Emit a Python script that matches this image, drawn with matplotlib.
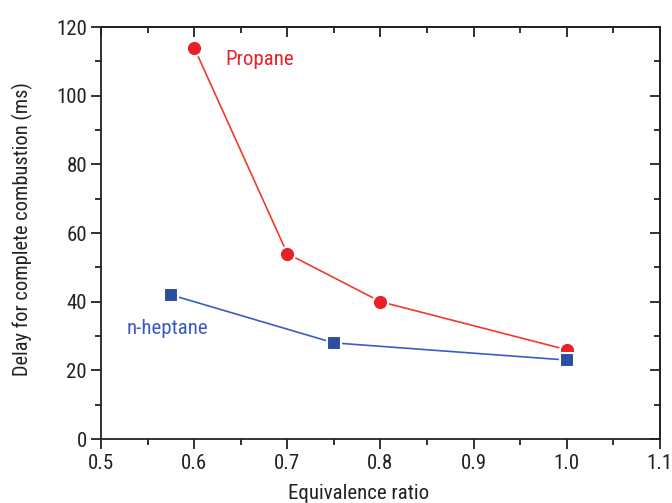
import matplotlib
matplotlib.use("Agg")
import matplotlib.pyplot as plt
from matplotlib.ticker import MultipleLocator

plt.rcParams['font.family'] = ['Roboto Condensed', 'DejaVu Sans']

propane_x = [0.6, 0.7, 0.8, 1.0]
propane_y = [114, 54, 40, 26]
heptane_x = [0.575, 0.75, 1.0]
heptane_y = [42, 28, 23]
xtick_labels = ['0.5', '0.6', '0.7', '0.8', '0.9', '1.0', '1.1']

fig = plt.figure(figsize=(6.72, 5.03), dpi=100)
ax = fig.add_axes([0.1503, 0.1272, 0.8317, 0.8191])

ax.plot(propane_x, propane_y, color='#f23a2a', lw=1.2, zorder=2)
ax.plot(propane_x, propane_y, linestyle='none', marker='o', ms=11,
        mfc='#e8202a', mec='white', mew=1.5, zorder=3)
ax.plot(heptane_x, heptane_y, color='#3a5cc4', lw=1.2, zorder=2)
ax.plot(heptane_x, heptane_y, linestyle='none', marker='s', ms=9.5,
        mfc='#2b4ea3', mec='white', mew=1.5, zorder=3)

ax.text(0.634, 110.4, 'Propane', color='#e8202a', fontsize=15, va='center', ha='left')
ax.text(0.528, 32.2, 'n-heptane', color='#3a5cc4', fontsize=15, va='center', ha='left')

ax.set_xlim(0.5, 1.1)
ax.set_ylim(0, 120)
ax.set_xticks([0.5, 0.6, 0.7, 0.8, 0.9, 1.0, 1.1])
ax.set_xticklabels(xtick_labels)
ax.xaxis.set_minor_locator(MultipleLocator(0.05))
ax.yaxis.set_major_locator(MultipleLocator(20))
ax.yaxis.set_minor_locator(MultipleLocator(10))

dark = '#222222'
for s in ax.spines.values():
    s.set_linewidth(1.3)
    s.set_color(dark)

ax.tick_params(axis='both', which='both', color=dark, width=1.3, labelsize=15, labelcolor=dark)
ax.tick_params(axis='both', which='major', length=7)
ax.tick_params(axis='both', which='minor', length=4)
ax.tick_params(axis='x', which='both', direction='out', bottom=True, top=False, pad=4)
ax.tick_params(axis='y', which='both', direction='out', left=True, right=False, pad=3)

# inward ticks on top and right
axt = ax.secondary_xaxis('top')
axt.set_xticks([0.5, 0.6, 0.7, 0.8, 0.9, 1.0, 1.1])
axt.xaxis.set_minor_locator(MultipleLocator(0.05))
axt.tick_params(which='both', direction='in', labeltop=False, color=dark, width=1.3)
axt.tick_params(which='major', length=7)
axt.tick_params(which='minor', length=4)
axt.spines['top'].set_linewidth(1.3)
axt.spines['top'].set_color(dark)
axr = ax.secondary_yaxis('right')
axr.yaxis.set_major_locator(MultipleLocator(20))
axr.yaxis.set_minor_locator(MultipleLocator(10))
axr.tick_params(which='both', direction='in', labelright=False, color=dark, width=1.3)
axr.tick_params(which='major', length=7)
axr.tick_params(which='minor', length=4)
axr.spines['right'].set_linewidth(1.3)
axr.spines['right'].set_color(dark)

ax.set_xlabel('Equivalence ratio', fontsize=15, color=dark)
ax.xaxis.set_label_coords(0.4606, -0.133)
ax.xaxis.label.set_va('center')
ax.set_ylabel('Delay for complete combustion (ms)', fontsize=14.7, color=dark)
ax.yaxis.set_label_coords(-0.14, 0.51)
ax.yaxis.label.set_va('center')

fig.savefig('out.png', dpi=100)
